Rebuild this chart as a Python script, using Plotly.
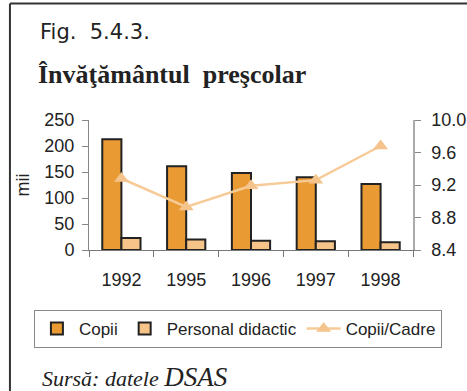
import plotly.graph_objects as go

# Preschool education: children, teaching staff (thousands) and children per staff
years = ["1992", "1995", "1996", "1997", "1998"]
copii = [213, 161, 148, 140, 127]
personal_didactic = [23, 20, 18, 17, 15]
copii_cadre = [9.28, 8.93, 9.19, 9.26, 9.68]

left_ticks = [0, 50, 100, 150, 200, 250]
right_ticks = [8.4, 8.8, 9.2, 9.6, 10.0]
category_bounds = [0.5, 1.5, 2.5, 3.5]

SANS = "Liberation Sans, Arial, sans-serif"
SERIF = "Liberation Serif, Times New Roman, serif"
AXIS_FONT = dict(family=SANS, size=18, color="#222")
OUTLINE = dict(color="#222", width=2)
NB = "\u00a0"

fig = go.Figure()
fig.add_trace(go.Bar(
    x=years, y=copii, name="Copii",
    marker=dict(color="#E99A33", line=OUTLINE),
))
fig.add_trace(go.Bar(
    x=years, y=personal_didactic, name="Personal didactic",
    marker=dict(color="#F6C388", line=OUTLINE),
))
fig.add_trace(go.Scatter(
    x=years, y=copii_cadre, name="Copii/Cadre", yaxis="y2",
    mode="lines+markers",
    line=dict(color="#F7CB98", width=2.5),
    marker=dict(symbol="triangle-up", size=13, color="#F5C38C"),
))

fig.update_layout(
    width=467, height=391,
    margin=dict(l=89, r=54, t=120, b=141, autoexpand=False),
    paper_bgcolor="white", plot_bgcolor="white",
    barmode="group", bargap=0.41, bargroupgap=0,
    showlegend=True,
    legend=dict(
        orientation="h", x=-0.17, y=-0.4615, xanchor="left", yanchor="top",
        font=dict(family=SANS, size=17, color="#222"),
        bordercolor="#888", borderwidth=1, bgcolor="white",
        itemwidth=34, tracegroupgap=0,
    ),
    xaxis=dict(
        type="category", showgrid=False, showline=True, linecolor="#777", linewidth=1,
        ticks="outside", tickson="boundaries", ticklen=6, tickcolor="#777",
        tickfont=AXIS_FONT, zeroline=False, ticklabelstandoff=13,
    ),
    # companion axis carrying the upward half of the crossing category ticks
    xaxis2=dict(
        overlaying="x", anchor="y", side="bottom", range=[-0.5, 4.5],
        tickvals=category_bounds, showticklabels=False, ticks="inside",
        ticklen=6, tickcolor="#777", showgrid=False, zeroline=False, showline=False,
    ),
    yaxis=dict(
        range=[0, 250], tickvals=left_ticks, showgrid=False, zeroline=False,
        showline=True, linecolor="#888", linewidth=1,
        ticks="outside", ticklen=6, tickcolor="#888", tickfont=AXIS_FONT,
        ticklabelstandoff=4,
        title=dict(text="mii", font=AXIS_FONT, standoff=10),
    ),
    yaxis2=dict(
        overlaying="y", side="right", anchor="x", range=[8.4, 10.0], tickvals=right_ticks,
        tickformat=".1f", showgrid=False, zeroline=False,
        showline=True, linecolor="#aaa", linewidth=1.5,
        ticks="outside", ticklen=6, tickcolor="#888", tickfont=AXIS_FONT,
        ticklabelstandoff=7,
    ),
    yaxis3=dict(
        overlaying="y", side="left", anchor="x", range=[0, 250], tickvals=left_ticks,
        showticklabels=False, ticks="inside", ticklen=6, tickcolor="#888",
        showgrid=False, zeroline=False, showline=False,
    ),
    yaxis4=dict(
        overlaying="y", side="right", anchor="x", range=[8.4, 10.0], tickvals=right_ticks,
        showticklabels=False, ticks="inside", ticklen=6, tickcolor="#888",
        showgrid=False, zeroline=False, showline=False,
    ),
    shapes=[
        # frame around the figure (left and top edges)
        dict(type="line", xref="paper", yref="paper", x0=-0.244, x1=-0.244, y0=1.896, y1=-1.3,
             line=dict(color="#333", width=2)),
        dict(type="line", xref="paper", yref="paper", x0=-0.244, x1=1.3, y0=1.896, y1=1.896,
             line=dict(color="#333", width=2)),
    ],
    annotations=[
        dict(text=f"Fig.{NB}{NB}5.4.3.", xref="paper", yref="paper", x=-0.158, y=1.68,
             xanchor="left", yanchor="middle", showarrow=False,
             font=dict(family="DejaVu Sans, sans-serif", size=21, color="#222")),
        dict(text=f"<b>Învăţământul{NB}{NB}preşcolar</b>", xref="paper", yref="paper",
             x=-0.163, y=1.35, xanchor="left", yanchor="middle", showarrow=False,
             font=dict(family=SERIF, size=26, color="#222")),
        dict(text="<i>Sursă: datele <span style='font-size:27px'>DSAS</span></i>",
             xref="paper", yref="paper", x=-0.152, y=-0.975,
             xanchor="left", yanchor="middle", showarrow=False,
             font=dict(family=SERIF, size=22, color="#222")),
    ],
)

fig.write_html("out.html")
